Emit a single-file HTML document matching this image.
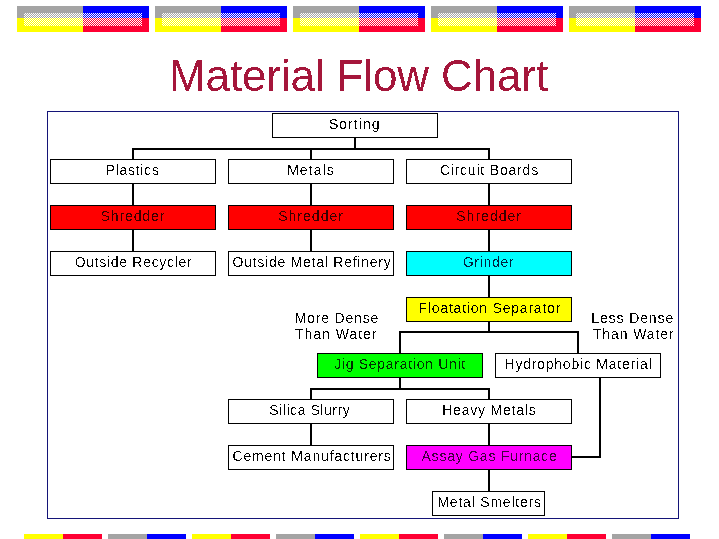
<!DOCTYPE html>
<html><head><meta charset="utf-8"><style>
html,body{margin:0;padding:0;background:#fff;}
body{width:719px;height:539px;position:relative;overflow:hidden;font-family:"Liberation Sans",sans-serif;}
.b{position:absolute;box-sizing:border-box;border:1px solid #000;}
.x{position:absolute;font-size:14px;line-height:16px;white-space:nowrap;filter:url(#thr);}
.l{position:absolute;background:#000;}
.title{position:absolute;left:-1px;width:719px;top:49.5px;text-align:center;font-size:44px;color:#a5163a;line-height:52px;letter-spacing:-0.13px;filter:url(#thr50);}
.frame{position:absolute;left:47px;top:111px;width:632px;height:408px;box-sizing:border-box;border:1px solid #141478;}
</style></head><body>

<svg width="0" height="0" style="position:absolute"><filter id="thr" x="0" y="0" width="100%" height="100%"><feComponentTransfer><feFuncA type="discrete" tableValues="0 0 0 0 0 1 1 1 1"/></feComponentTransfer></filter><filter id="thr50" x="0" y="0" width="100%" height="100%"><feComponentTransfer><feFuncA type="discrete" tableValues="0 1"/></feComponentTransfer></filter></svg>
<div class="frame"></div>
<div class="title">Material Flow Chart</div>
<div class="b" style="left:272px;top:113px;width:166px;height:25px;background:#fff"></div>
<div class="b" style="left:50px;top:159px;width:166px;height:25px;background:#fff"></div>
<div class="b" style="left:228px;top:159px;width:166px;height:25px;background:#fff"></div>
<div class="b" style="left:406px;top:159px;width:166px;height:25px;background:#fff"></div>
<div class="b" style="left:50px;top:205px;width:166px;height:25px;background:#ff0000"></div>
<div class="b" style="left:228px;top:205px;width:166px;height:25px;background:#ff0000"></div>
<div class="b" style="left:406px;top:205px;width:166px;height:25px;background:#ff0000"></div>
<div class="b" style="left:50px;top:251px;width:166px;height:25px;background:#fff"></div>
<div class="b" style="left:228px;top:251px;width:166px;height:25px;background:#fff"></div>
<div class="b" style="left:406px;top:251px;width:166px;height:25px;background:#00ffff"></div>
<div class="b" style="left:406px;top:297px;width:166px;height:25px;background:#ffff00"></div>
<div class="b" style="left:317px;top:353px;width:166px;height:25px;background:#00ff00"></div>
<div class="b" style="left:495px;top:353px;width:166px;height:25px;background:#fff"></div>
<div class="b" style="left:228px;top:399px;width:166px;height:25px;background:#fff"></div>
<div class="b" style="left:406px;top:399px;width:166px;height:25px;background:#fff"></div>
<div class="b" style="left:228px;top:445px;width:166px;height:25px;background:#fff"></div>
<div class="b" style="left:406px;top:445px;width:166px;height:25px;background:#ff00ff"></div>
<div class="b" style="left:432px;top:491px;width:113px;height:25px;background:#fff"></div>
<div class="l" style="left:354px;top:138px;width:2px;height:11px"></div>
<div class="l" style="left:132px;top:148px;width:358px;height:2px"></div>
<div class="l" style="left:132px;top:150px;width:2px;height:9px"></div>
<div class="l" style="left:310px;top:150px;width:2px;height:9px"></div>
<div class="l" style="left:488px;top:150px;width:2px;height:9px"></div>
<div class="l" style="left:132px;top:184px;width:2px;height:21px"></div>
<div class="l" style="left:310px;top:184px;width:2px;height:21px"></div>
<div class="l" style="left:488px;top:184px;width:2px;height:21px"></div>
<div class="l" style="left:132px;top:230px;width:2px;height:21px"></div>
<div class="l" style="left:310px;top:230px;width:2px;height:21px"></div>
<div class="l" style="left:488px;top:230px;width:2px;height:21px"></div>
<div class="l" style="left:488px;top:276px;width:2px;height:21px"></div>
<div class="l" style="left:488px;top:322px;width:2px;height:10px"></div>
<div class="l" style="left:399px;top:331px;width:180px;height:2px"></div>
<div class="l" style="left:399px;top:333px;width:2px;height:20px"></div>
<div class="l" style="left:577px;top:333px;width:2px;height:20px"></div>
<div class="l" style="left:399px;top:378px;width:2px;height:11px"></div>
<div class="l" style="left:310px;top:388px;width:180px;height:2px"></div>
<div class="l" style="left:310px;top:390px;width:2px;height:9px"></div>
<div class="l" style="left:488px;top:390px;width:2px;height:9px"></div>
<div class="l" style="left:310px;top:424px;width:2px;height:21px"></div>
<div class="l" style="left:488px;top:424px;width:2px;height:21px"></div>
<div class="l" style="left:488px;top:470px;width:2px;height:21px"></div>
<div class="l" style="left:599px;top:378px;width:2px;height:80px"></div>
<div class="l" style="left:572px;top:456px;width:29px;height:2px"></div>
<div class="x" id="t0" style="left:328.92px;top:116px;letter-spacing:1.047px;color:#000">Sorting</div>
<div class="x" id="t1" style="left:105.50px;top:162px;letter-spacing:0.749px;color:#000">Plastics</div>
<div class="x" id="t2" style="left:287.14px;top:162px;letter-spacing:1.076px;color:#000">Metals</div>
<div class="x" id="t3" style="left:439.64px;top:162px;letter-spacing:0.819px;color:#000">Circuit Boards</div>
<div class="x" id="t4" style="left:100.50px;top:208px;letter-spacing:0.900px;color:#3a0000">Shredder</div>
<div class="x" id="t5" style="left:278.14px;top:208px;letter-spacing:1.030px;color:#3a0000">Shredder</div>
<div class="x" id="t6" style="left:456.28px;top:208px;letter-spacing:1.017px;color:#3a0000">Shredder</div>
<div class="x" id="t7" style="left:74.64px;top:254px;letter-spacing:0.697px;color:#000">Outside Recycler</div>
<div class="x" id="t8" style="left:232.50px;top:254px;letter-spacing:0.751px;color:#000">Outside Metal Refinery</div>
<div class="x" id="t9" style="left:462.64px;top:254px;letter-spacing:0.713px;color:#002040">Grinder</div>
<div class="x" id="t10" style="left:418.50px;top:300px;letter-spacing:0.790px;color:#000">Floatation Separator</div>
<div class="x" id="t11" style="left:334.20px;top:356px;letter-spacing:0.709px;color:#003000">Jig Separation Unit</div>
<div class="x" id="t12" style="left:504.50px;top:356px;letter-spacing:0.779px;color:#000">Hydrophobic Material</div>
<div class="x" id="t13" style="left:269.28px;top:402px;letter-spacing:0.553px;color:#000">Silica Slurry</div>
<div class="x" id="t14" style="left:442.14px;top:402px;letter-spacing:0.803px;color:#000">Heavy Metals</div>
<div class="x" id="t15" style="left:232.50px;top:448px;letter-spacing:0.837px;color:#000">Cement Manufacturers</div>
<div class="x" id="t16" style="left:421.50px;top:448px;letter-spacing:0.775px;color:#400040">Assay Gas Furnace</div>
<div class="x" id="t17" style="left:437.42px;top:494px;letter-spacing:0.792px;color:#000">Metal Smelters</div>
<div class="x" id="t18" style="left:294.86px;top:310px;letter-spacing:0.794px;color:#000">More Dense</div>
<div class="x" id="t19" style="left:295.06px;top:326px;letter-spacing:0.972px;color:#000">Than Water</div>
<div class="x" id="t20" style="left:591.28px;top:310px;letter-spacing:0.890px;color:#000">Less Dense</div>
<div class="x" id="t21" style="left:592.92px;top:326px;letter-spacing:0.886px;color:#000">Than Water</div>
<svg style="position:absolute;left:0;top:0" width="719" height="40" shape-rendering="crispEdges"><defs><pattern id="ck" x="0" y="0" width="2" height="2" patternUnits="userSpaceOnUse"><rect x="0" y="0" width="1" height="1" fill="#fff"/><rect x="1" y="1" width="1" height="1" fill="#fff"/></pattern></defs><rect x="17" y="6" width="66" height="12" fill="#a4a4a4"/><rect x="83" y="6" width="66" height="12" fill="#0000ff"/><rect x="17" y="18" width="66" height="14" fill="#ffff00"/><rect x="83" y="18" width="66" height="14" fill="#ff0033"/><rect x="24" y="13" width="118" height="13" fill="url(#ck)"/><rect x="155" y="6" width="66" height="12" fill="#a4a4a4"/><rect x="221" y="6" width="66" height="12" fill="#0000ff"/><rect x="155" y="18" width="66" height="14" fill="#ffff00"/><rect x="221" y="18" width="66" height="14" fill="#ff0033"/><rect x="162" y="13" width="118" height="13" fill="url(#ck)"/><rect x="293" y="6" width="66" height="12" fill="#a4a4a4"/><rect x="359" y="6" width="66" height="12" fill="#0000ff"/><rect x="293" y="18" width="66" height="14" fill="#ffff00"/><rect x="359" y="18" width="66" height="14" fill="#ff0033"/><rect x="300" y="13" width="118" height="13" fill="url(#ck)"/><rect x="431" y="6" width="66" height="12" fill="#a4a4a4"/><rect x="497" y="6" width="66" height="12" fill="#0000ff"/><rect x="431" y="18" width="66" height="14" fill="#ffff00"/><rect x="497" y="18" width="66" height="14" fill="#ff0033"/><rect x="438" y="13" width="118" height="13" fill="url(#ck)"/><rect x="569" y="6" width="66" height="12" fill="#a4a4a4"/><rect x="635" y="6" width="66" height="12" fill="#0000ff"/><rect x="569" y="18" width="66" height="14" fill="#ffff00"/><rect x="635" y="18" width="66" height="14" fill="#ff0033"/><rect x="576" y="13" width="118" height="13" fill="url(#ck)"/></svg>
<div style="position:absolute;left:24px;top:534px;width:39px;height:5px;background:#ffff00"></div>
<div style="position:absolute;left:63px;top:534px;width:39px;height:5px;background:#ff0033"></div>
<div style="position:absolute;left:108px;top:534px;width:39px;height:5px;background:#a4a4a4"></div>
<div style="position:absolute;left:147px;top:534px;width:39px;height:5px;background:#0000ff"></div>
<div style="position:absolute;left:192px;top:534px;width:39px;height:5px;background:#ffff00"></div>
<div style="position:absolute;left:231px;top:534px;width:39px;height:5px;background:#ff0033"></div>
<div style="position:absolute;left:276px;top:534px;width:39px;height:5px;background:#a4a4a4"></div>
<div style="position:absolute;left:315px;top:534px;width:39px;height:5px;background:#0000ff"></div>
<div style="position:absolute;left:360px;top:534px;width:39px;height:5px;background:#ffff00"></div>
<div style="position:absolute;left:399px;top:534px;width:39px;height:5px;background:#ff0033"></div>
<div style="position:absolute;left:444px;top:534px;width:39px;height:5px;background:#a4a4a4"></div>
<div style="position:absolute;left:483px;top:534px;width:39px;height:5px;background:#0000ff"></div>
<div style="position:absolute;left:528px;top:534px;width:39px;height:5px;background:#ffff00"></div>
<div style="position:absolute;left:567px;top:534px;width:39px;height:5px;background:#ff0033"></div>
<div style="position:absolute;left:612px;top:534px;width:39px;height:5px;background:#a4a4a4"></div>
<div style="position:absolute;left:651px;top:534px;width:39px;height:5px;background:#0000ff"></div>
</body></html>
